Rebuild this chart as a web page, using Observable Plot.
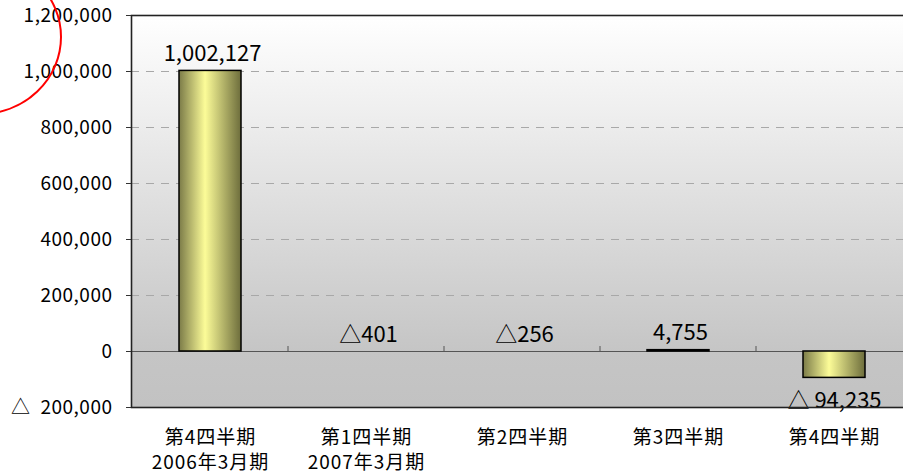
<!DOCTYPE html>
<html>
<head>
<meta charset="utf-8">
<script src="https://cdn.jsdelivr.net/npm/d3@7"></script>
<script src="https://cdn.jsdelivr.net/npm/@observablehq/plot@0.6"></script>
<style>
  html, body { margin: 0; padding: 0; background: #fff; overflow: hidden; }
  #chart svg { display: block; overflow: hidden; }
</style>
</head>
<body>
<div id="chart"></div>
<script>
// ---- data ----
const categories = ["第4四半期\n2006年3月期", "第1四半期\n2007年3月期", "第2四半期", "第3四半期", "第4四半期"];
const values = [1002127, -401, -256, 4755, -94235];
const valueLabels = ["1,002,127", "△401", "△256", "4,755", "△ 94,235"];
const yTicks = [-200000, 0, 200000, 400000, 600000, 800000, 1000000, 1200000];

const data = categories.map((c, i) => ({cat: c, value: values[i], label: valueLabels[i]}));
const gridValues = yTicks.filter(v => v > 0 && v < d3.max(yTicks));
const fmt = d3.format(",");
const yFormat = v => v < 0 ? "△\u2002" + fmt(-v) : fmt(v);
const FONT = "'Noto Sans CJK JP', 'Noto Sans', sans-serif";

const boundaryTicks = (index, scales, values, dims) => {
  const x = scales.x, y = scales.y;
  const step = x.step ? x.step() : (dims.width - dims.marginLeft - dims.marginRight) / categories.length;
  const bw = x.bandwidth ? x.bandwidth() : 0;
  const g = d3.create("svg:g");
  categories.slice(1).forEach(c => {
    const xp = x(c) + bw / 2 - step / 2;
    g.append("line").attr("x1", xp).attr("x2", xp)
      .attr("y1", y(0)).attr("y2", y(0) - 5)
      .attr("stroke", "#555").attr("stroke-width", 1);
  });
  return g.node();
};

const chart = Plot.plot({
  width: 903,
  height: 474,
  marginLeft: 131,
  marginRight: -10,
  marginTop: 15,
  marginBottom: 67,
  style: {fontFamily: FONT, background: "#fff", color: "#000"},
  x: {type: "band", domain: categories, paddingInner: 0.6, paddingOuter: 0.3, label: null},
  y: {domain: [d3.min(yTicks), d3.max(yTicks)], label: null},
  marks: [
    Plot.frame({fill: "url(#bgGrad)", stroke: "none"}),
    Plot.ruleY(gridValues, {stroke: "#a8a8a8", strokeWidth: 1, strokeDasharray: "8,7"}),
    Plot.ruleY([0], {stroke: "#555", strokeWidth: 1}),
    boundaryTicks,
    Plot.barY(data.filter(d => Math.abs(d.value) >= 1000), {
      x: "cat", y: "value", fill: "url(#barGrad)", stroke: "#000", strokeWidth: 1.5
    }),
    Plot.text(data.filter(d => d.value >= -10000), {
      x: "cat", y: d => Math.max(d.value, 0), text: "label",
      dy: -10, dx: 2, lineAnchor: "bottom", fontSize: 22, fill: "#000",
      textAnchor: "middle", fontFamily: FONT
    }),
    Plot.text(data.filter(d => d.value < -10000), {
      x: "cat", y: "value", text: "label",
      dy: 30, lineAnchor: "bottom", fontSize: 22, fill: "#000",
      textAnchor: "middle", fontFamily: FONT
    }),
    Plot.frame({stroke: "#222", strokeWidth: 1.6}),
    Plot.axisY({ticks: yTicks, tickFormat: yFormat, tickSize: 5, tickPadding: 14,
      fontSize: 19, label: null, stroke: "#333"}),
    Plot.axisX({tickSize: 0, tickPadding: 23, fontSize: 19, label: null, lineAnchor: "top",
      tickFormat: d => d.split("\n")[0]}),
    Plot.axisX({tickSize: 0, tickPadding: 48, fontSize: 19, label: null, lineAnchor: "top",
      tickFormat: d => d.split("\n")[1] || ""})
  ]
});

const svg = d3.select(chart);
const defs = svg.insert("defs", ":first-child");
const bar = defs.append("linearGradient").attr("id", "barGrad")
  .attr("x1", "0").attr("y1", "0").attr("x2", "1").attr("y2", "0");
bar.append("stop").attr("offset", "0").attr("stop-color", "#7b7b48");
bar.append("stop").attr("offset", "0.42").attr("stop-color", "#fcfc98");
bar.append("stop").attr("offset", "1").attr("stop-color", "#6d6d3c");
const bg = defs.append("linearGradient").attr("id", "bgGrad")
  .attr("x1", "0").attr("y1", "0").attr("x2", "0").attr("y2", "1");
bg.append("stop").attr("offset", "0").attr("stop-color", "#ffffff");
bg.append("stop").attr("offset", "0.86").attr("stop-color", "#c5c5c5");
bg.append("stop").attr("offset", "1").attr("stop-color", "#c2c2c2");

svg.selectAll('[aria-label="x-axis tick label"] text').style("letter-spacing", "1px");
svg.selectAll('[aria-label="y-axis tick label"] text').style("letter-spacing", "0.5px");

// red hand-drawn annotation circle (top-left)
svg.append("ellipse").attr("cx", -20).attr("cy", 37).attr("rx", 81).attr("ry", 77)
  .attr("fill", "none").attr("stroke", "#ff0000").attr("stroke-width", 2);

document.getElementById("chart").appendChild(chart);
</script>
</body>
</html>
